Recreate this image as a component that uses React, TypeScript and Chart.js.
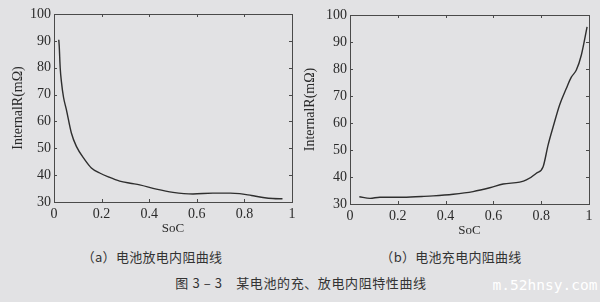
import React, { useEffect, useRef } from "react";
import { Chart, registerables } from "chart.js";

Chart.register(...registerables);

// ---- data ----
const socTicks = [0, 0.2, 0.4, 0.6, 0.8, 1];
const socTickLabels = ["0", "0.2", "0.4", "0.6", "0.8", "1"];
const rTicks = [30, 40, 50, 60, 70, 80, 90, 100];
const rTickLabels = ["30", "40", "50", "60", "70", "80", "90", "100"];

const dischargeSoc = [0.02, 0.022, 0.026, 0.031, 0.04, 0.052, 0.073, 0.094, 0.129, 0.157, 0.192, 0.23, 0.276, 0.32, 0.36, 0.43, 0.5, 0.584, 0.668, 0.74, 0.78, 0.83, 0.878, 0.92, 0.96];
const dischargeR = [90.4, 88, 80, 74.9, 69, 64.4, 55.7, 50.7, 45.8, 42.7, 40.8, 39.3, 37.8, 37.0, 36.4, 34.8, 33.6, 33.0, 33.3, 33.3, 33.1, 32.4, 31.7, 31.3, 31.2];

const chargeSoc = [0.039, 0.084, 0.125, 0.209, 0.3, 0.348, 0.432, 0.515, 0.585, 0.641, 0.71, 0.738, 0.78, 0.808, 0.829, 0.85, 0.877, 0.905, 0.926, 0.947, 0.968, 0.992];
const chargeR = [32.7, 32.1, 32.5, 32.5, 32.8, 33.0, 33.6, 34.6, 36.0, 37.4, 38.1, 38.9, 41.4, 43.8, 51.9, 58.6, 66.7, 72.8, 77.0, 79.6, 85.2, 95.6];

const xTitle = "SoC";
const yTitle = "InternalR(mΩ)";
const captionA = "（a）电池放电内阻曲线";
const captionB = "（b）电池充电内阻曲线";
const figCaption = "图 3 – 3　某电池的充、放电内阻特性曲线";
const watermark = "m.52hnsy.com";

const framePlugin = {
  id: "matlabFrame",
  afterDraw(chart: any) {
    const { ctx, chartArea } = chart;
    const { left, right, top, bottom } = chartArea;
    const xs = chart.scales.x;
    const ys = chart.scales.y;
    ctx.save();
    ctx.strokeStyle = "#4a4a4a";
    ctx.lineWidth = 1;
    ctx.strokeRect(Math.round(left) + 0.5, Math.round(top) + 0.5, Math.round(right - left), Math.round(bottom - top));
    const len = 3;
    ctx.beginPath();
    xs.ticks.forEach((t: any) => {
      const px = Math.round(xs.getPixelForValue(t.value)) + 0.5;
      ctx.moveTo(px, bottom);
      ctx.lineTo(px, bottom - len);
      ctx.moveTo(px, top);
      ctx.lineTo(px, top + len);
    });
    ys.ticks.forEach((t: any) => {
      const py = Math.round(ys.getPixelForValue(t.value)) + 0.5;
      ctx.moveTo(left, py);
      ctx.lineTo(left + len, py);
      ctx.moveTo(right, py);
      ctx.lineTo(right - len, py);
    });
    ctx.stroke();
    ctx.restore();
  },
};

type Cfg = {
  soc: number[];
  r: number[];
  yAxisWidth: number;
  xAxisHeight: number;
  padTop: number;
  padRight: number;
  yTitlePad: number;
  xTitlePad: number;
};

function Panel({ cfg, left }: { cfg: Cfg; left: number }) {
  const ref = useRef<HTMLCanvasElement | null>(null);
  useEffect(() => {
    if (!ref.current) return;
    const font = "'Liberation Serif', 'Times New Roman', serif";
    const chart = new Chart(ref.current, {
      type: "line",
      data: {
        datasets: [
          {
            data: cfg.soc.map((s, i) => ({ x: s, y: cfg.r[i] })),
            borderColor: "#2e2e2e",
            borderWidth: 1.4,
            pointRadius: 0,
            cubicInterpolationMode: "monotone",
            fill: false,
          },
        ],
      },
      options: {
        animation: false,
        responsive: false,
        devicePixelRatio: 1,
        layout: { padding: { top: cfg.padTop, right: cfg.padRight, left: 0, bottom: 0 } },
        plugins: { legend: { display: false }, tooltip: { enabled: false } },
        scales: {
          x: {
            type: "linear",
            min: 0,
            max: 1,
            grid: { display: false, drawTicks: false },
            border: { display: false },
            afterBuildTicks: (s: any) => {
              s.ticks = socTicks.map((v) => ({ value: v }));
            },
            afterFit: (s: any) => {
              s.height = cfg.xAxisHeight;
            },
            ticks: {
              color: "#2a2a2a",
              padding: 4,
              maxRotation: 0,
              font: { family: font, size: 14 },
              callback: (_v: any, i: number) => socTickLabels[i],
            },
            title: { display: true, text: xTitle, color: "#2a2a2a", padding: { top: 0, bottom: cfg.xTitlePad }, font: { family: font, size: 13 } },
          },
          y: {
            type: "linear",
            min: 30,
            max: 100,
            grid: { display: false, drawTicks: false },
            border: { display: false },
            afterBuildTicks: (s: any) => {
              s.ticks = rTicks.map((v) => ({ value: v }));
            },
            afterFit: (s: any) => {
              s.width = cfg.yAxisWidth;
            },
            ticks: {
              color: "#2a2a2a",
              padding: 3,
              font: { family: font, size: 14 },
              callback: (_v: any, i: number) => rTickLabels[i],
            },
            title: { display: true, text: yTitle, color: "#2a2a2a", padding: { top: cfg.yTitlePad, bottom: 0 }, font: { family: font, size: 14 } },
          },
        },
      },
      plugins: [framePlugin],
    } as any);
    return () => chart.destroy();
  }, []);
  return (
    <canvas
      ref={ref}
      width={300}
      height={240}
      style={{ position: "absolute", left, top: 0, width: 300, height: 240 }}
    />
  );
}

const cjk = "'Noto Sans CJK SC', 'Noto Sans', sans-serif";

function Label({ text, cx, cy, size, color, family, spacing }: any) {
  return (
    <div
      style={{
        position: "absolute",
        left: cx - 200,
        width: 400,
        top: cy - 10,
        height: 20,
        lineHeight: "20px",
        textAlign: "center",
        fontSize: size,
        fontFamily: family,
        color,
        letterSpacing: spacing || 0,
        whiteSpace: "nowrap",
      }}
    >
      {text}
    </div>
  );
}

export default function App() {
  useEffect(() => {
    document.body.style.margin = "0";
  }, []);
  const left: Cfg = {
    soc: dischargeSoc,
    r: dischargeR,
    yAxisWidth: 54,
    xAxisHeight: 38,
    padTop: 14,
    padRight: 8,
    yTitlePad: 10,
    xTitlePad: 4,
  };
  const right: Cfg = {
    soc: chargeSoc,
    r: chargeR,
    yAxisWidth: 50,
    xAxisHeight: 36,
    padTop: 15,
    padRight: 11,
    yTitlePad: 2,
    xTitlePad: 2,
  };
  return (
    <div
      style={{
        position: "absolute",
        left: 0,
        top: 0,
        width: 600,
        height: 302,
        overflow: "hidden",
        background: "#e2e2e4",
      }}
    >
      <Panel cfg={left} left={0} />
      <Panel cfg={right} left={300} />
      <Label text={captionA} cx={152} cy={257} size={13} color="#333" family={cjk} spacing={0.3} />
      <Label text={captionB} cx={451} cy={257} size={13} color="#333" family={cjk} spacing={0.3} />
      <Label text={figCaption} cx={301} cy={283} size={13} color="#333" family={cjk} spacing={0.6} />
      <Label text={watermark} cx={545} cy={285} size={14.5} color="#ffffff" family="'DejaVu Sans Mono', monospace" />
    </div>
  );
}
